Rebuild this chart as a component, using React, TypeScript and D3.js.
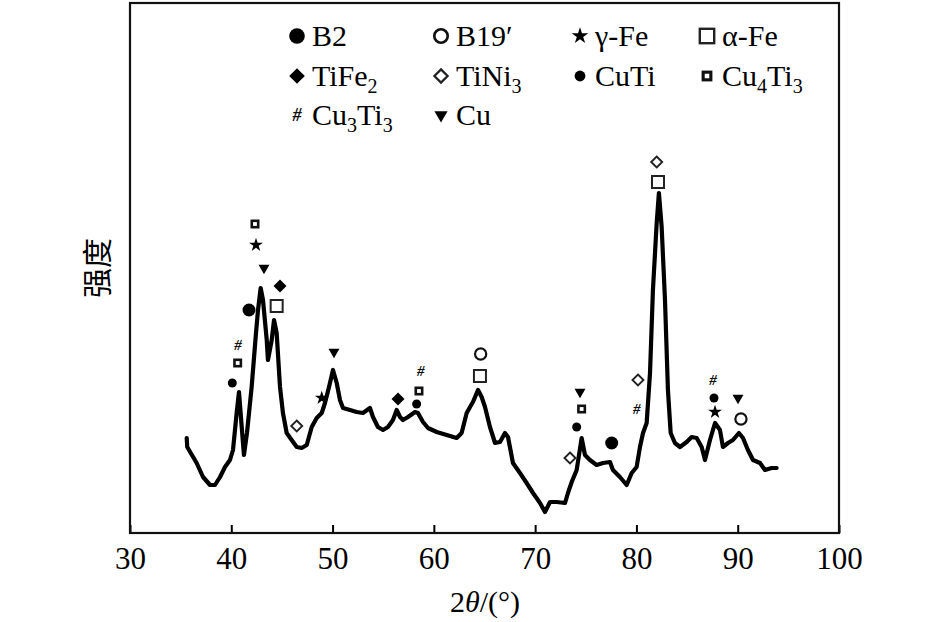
import React, { useRef, useEffect } from 'react';
import * as d3 from 'd3';

// XRD pattern, 2θ (°) vs intensity (a.u.)
const twoTheta = [
  35.6, 35.65, 36.58, 37.21, 37.9, 38.39, 38.89, 39.38, 39.87, 40.17, 40.53, 40.76,
  41.03, 41.25, 41.55, 42.01, 42.44, 42.64, 42.9, 43.13, 43.5, 43.62, 43.99, 44.22,
  44.48, 44.81, 45.1, 45.47, 45.96, 46.46, 46.95, 47.45, 47.94, 48.43, 48.93, 49.25,
  49.65, 50.04, 50.41, 50.73, 51.03, 51.72, 52.38, 53.0, 53.69, 53.99, 54.48, 54.98,
  55.47, 55.96, 56.33, 56.66, 56.95, 57.45, 58.14, 58.43, 58.93, 59.42, 60.28, 61.27,
  62.25, 62.74, 63.24, 63.57, 63.86, 64.36, 64.72, 65.05, 65.54, 66.04, 66.53, 67.02,
  67.32, 67.81, 68.5, 69.16, 69.79, 70.48, 70.97, 71.47, 72.13, 72.95, 73.24, 73.61,
  74.1, 74.59, 74.92, 75.41, 76.07, 76.7, 77.39, 77.68, 78.37, 79.04, 79.53, 80.02,
  80.35, 80.65, 81.01, 81.34, 81.63, 82.0, 82.22, 82.49, 82.82, 83.11, 83.38, 83.8,
  84.3, 84.96, 85.45, 85.95, 86.44, 86.77, 87.26, 87.76, 88.25, 88.54, 89.04, 89.53,
  90.12, 90.52, 91.01, 91.51, 92.2, 92.69, 93.35, 93.84,
];
const intensity = [
  95, 86, 70, 56, 48, 48, 56, 66, 73, 83, 120, 141,
  106, 78, 100, 146, 200, 223, 245, 233, 193, 173, 193, 213,
  200, 146, 120, 100, 93, 86, 85, 88, 106, 115, 120, 130,
  146, 163, 150, 133, 125, 123, 121, 120, 125, 116, 106, 103,
  106, 113, 123, 116, 113, 116, 121, 120, 111, 105, 101, 98,
  95, 100, 120, 126, 131, 143, 136, 126, 106, 90, 91, 100,
  96, 70, 60, 50, 40, 30, 21, 31, 31, 30, 40, 51,
  63, 95, 78, 73, 68, 70, 71, 63, 56, 48, 60, 66,
  86, 100, 110, 160, 243, 310, 340, 306, 233, 143, 100, 90,
  86, 91, 96, 95, 86, 73, 93, 110, 103, 86, 90, 93,
  100, 95, 83, 73, 70, 63, 65, 65,
];

// phase labels placed above the peaks: [2θ, height]
const b2Peaks = [[41.75, 223], [77.56, 90]];
const b19Peaks = [[64.62, 179], [90.32, 114]];
const gammaFePeaks = [[42.44, 288], [48.93, 135], [87.76, 121]];
const alphaFePeaks = [[44.48, 227], [64.55, 157], [82.13, 351]];
const tife2Peaks = [[44.81, 247], [56.46, 134]];
const tini3Peaks = [[46.46, 107], [73.44, 75], [80.15, 153], [82.0, 371]];
const cutiPeaks = [[40.1, 150], [58.3, 129], [74.1, 106], [87.66, 135]];
const cu4ti3Peaks = [[42.34, 309], [40.63, 170], [58.53, 142], [74.59, 124]];
const cu3ti3Peaks = [[40.66, 188], [58.7, 162], [80.02, 124], [87.56, 153]];
const cuPeaks = [[43.23, 265], [50.14, 181], [74.43, 141], [90.03, 135]];

const xTicks = [30, 40, 50, 60, 70, 80, 90, 100];

const W = 945;
const H = 622;
const M = { left: 130, right: 839, top: 3, bottom: 533 };
const serif = 'Liberation Serif, Tinos, Times New Roman, DejaVu Serif, serif';

type Kind = 'B2' | 'B19' | 'gFe' | 'aFe' | 'TiFe2' | 'TiNi3' | 'CuTi' | 'Cu4Ti3' | 'Cu3Ti3' | 'Cu';

const peakSets: [Kind, number[][]][] = [
  ['B2', b2Peaks], ['B19', b19Peaks], ['gFe', gammaFePeaks], ['aFe', alphaFePeaks],
  ['TiFe2', tife2Peaks], ['TiNi3', tini3Peaks], ['CuTi', cutiPeaks],
  ['Cu4Ti3', cu4ti3Peaks], ['Cu3Ti3', cu3ti3Peaks], ['Cu', cuPeaks],
];

// legend: kind, text parts as [text, subscript] pairs
const legendRows: [Kind, [string, string][]][][] = [
  [['B2', [['B2', '']]], ['B19', [['B19\u2032', '']]], ['gFe', [['\u03b3-Fe', '']]], ['aFe', [['\u03b1-Fe', '']]]],
  [['TiFe2', [['TiFe', '2']]], ['TiNi3', [['TiNi', '3']]], ['CuTi', [['CuTi', '']]], ['Cu4Ti3', [['Cu', '4'], ['Ti', '3']]]],
  [['Cu3Ti3', [['Cu', '3'], ['Ti', '3']]], ['Cu', [['Cu', '']]]],
];
const legendColX = [297, 441, 580, 707];
const legendRowY = [36, 76, 115];

function Marker({ kind, cx, cy, k = 1 }: { kind: Kind; cx: number; cy: number; k?: number }) {
  const t = `translate(${cx},${cy}) scale(${k})`;
  switch (kind) {
    case 'B2':
      return <circle transform={t} r={6.5} fill="#000" />;
    case 'B19':
      return <circle transform={t} r={5.6} fill="#fff" stroke="#111" strokeWidth={2.2} />;
    case 'gFe':
      return <path transform={t} d={d3.symbol(d3.symbolStar, 60)() as string} fill="#000" />;
    case 'aFe':
      return <rect transform={t} x={-6} y={-6} width={12} height={12} fill="#fff" stroke="#222" strokeWidth={2} />;
    case 'TiFe2':
      return <path transform={t} d="M0,-6.5L6.5,0L0,6.5L-6.5,0Z" fill="#000" />;
    case 'TiNi3':
      return <path transform={t} d="M0,-5.5L5.5,0L0,5.5L-5.5,0Z" fill="#fff" stroke="#222" strokeWidth={1.9} />;
    case 'CuTi':
      return <circle transform={t} r={4.5} fill="#000" />;
    case 'Cu4Ti3':
      return <rect transform={t} x={-3.2} y={-3.2} width={6.4} height={6.4} fill="#fff" stroke="#111" strokeWidth={2.6} />;
    case 'Cu3Ti3':
      return (
        <text transform={t} textAnchor="middle" dy="0.35em" fontSize={15} fontWeight="bold"
          fontStyle="italic" fontFamily={serif} fill="#111">#</text>
      );
    case 'Cu':
      return <path transform={`${t} rotate(180)`} d={d3.symbol(d3.symbolTriangle, 52)() as string} fill="#000" />;
  }
  return null;
}

export default function App() {
  const axisRef = useRef<SVGGElement>(null);

  const x = d3.scaleLinear().domain([30, 100]).range([M.left, M.right]);
  const y = d3.scaleLinear().domain([0, 530]).range([M.bottom, M.top]);

  const line = d3.line<number>()
    .x((_, i) => x(twoTheta[i]))
    .y((d) => y(d));

  useEffect(() => {
    if (!axisRef.current) return;
    const g = d3.select(axisRef.current);
    g.selectAll('*').remove();
    g.call(
      d3.axisBottom(x)
        .tickValues(xTicks)
        .tickSizeInner(-8)
        .tickSizeOuter(0)
        .tickPadding(14)
        .tickFormat(d3.format('d'))
    );
    g.attr('font-family', serif);
    g.select('.domain').remove();
    g.selectAll('.tick line').attr('stroke', '#000').attr('stroke-width', 2);
    g.selectAll('.tick text')
      .attr('font-size', 31)
      .attr('font-family', serif)
      .attr('fill', '#000');
  }, []);

  return (
    <svg width={W} height={H} style={{ position: 'absolute', left: 0, top: 0, background: '#fff' }}>
      <rect x={0} y={0} width={W} height={H} fill="#fff" />
      <g ref={axisRef} transform={`translate(0,${M.bottom})`} />
      <rect x={M.left} y={M.top} width={M.right - M.left} height={M.bottom - M.top}
        fill="none" stroke="#111" strokeWidth={2.2} />

      <path d={line(intensity) as string} fill="none" stroke="#000" strokeWidth={4.2}
        strokeLinejoin="round" strokeLinecap="round" />

      {peakSets.map(([kind, pts]) =>
        pts.map((p, i) => <Marker key={`${kind}-${i}`} kind={kind} cx={x(p[0])} cy={y(p[1])} />)
      )}

      {legendRows.map((row, r) =>
        row.map(([kind, parts], c) => (
          <g key={`lg-${r}-${c}`}>
            <Marker kind={kind} cx={legendColX[c]} cy={legendRowY[r]} k={1.2} />
            <text x={legendColX[c] + 15} y={legendRowY[r] + 10} fontSize={30} fontFamily={serif} fill="#000">
              {parts.map(([main, sub], j) => {
                const back = j > 0 && parts[j - 1][1] ? -7 : 0;
                return (
                  <React.Fragment key={j}>
                    <tspan dy={back}>{main}</tspan>
                    {sub && <tspan fontSize={20} dy={7}>{sub}</tspan>}
                  </React.Fragment>
                );
              })}
            </text>
          </g>
        ))
      )}

      <text x={485} y={612} textAnchor="middle" fontSize={30} fontFamily={serif} fill="#000">
        2<tspan fontStyle="italic">θ</tspan>/(°)
      </text>
      <text transform="translate(108,268) rotate(-90)" textAnchor="middle" fontSize={30}
        fontFamily="Noto Sans CJK SC, sans-serif" fill="#000">强度</text>
    </svg>
  );
}
